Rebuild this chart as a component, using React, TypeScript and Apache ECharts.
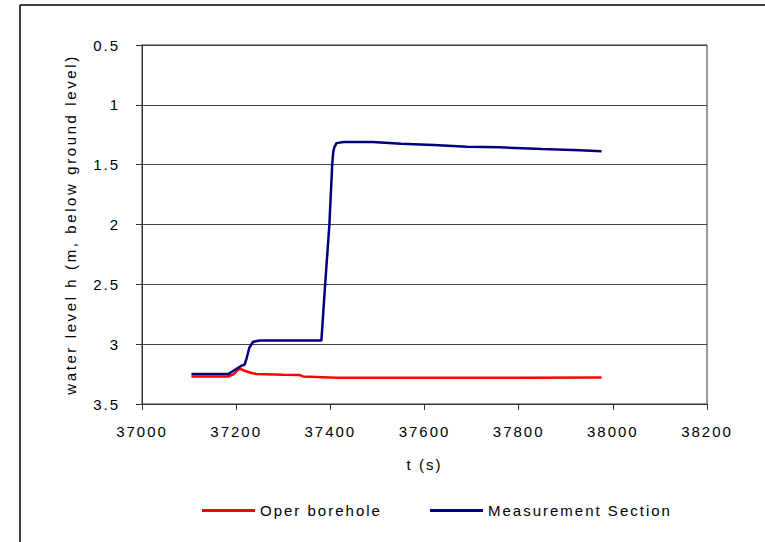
import React, { useEffect, useRef } from "react";
import * as echarts from "echarts";

// Time stamps (s) and water levels (m below ground level)
const measurementTime = [
  37105, 37183, 37195, 37205, 37212, 37218, 37222, 37228, 37236, 37250,
  37300, 37350, 37381, 37389, 37398, 37404, 37406, 37408, 37413, 37428,
  37490, 37550, 37620, 37690, 37760, 37850, 37930, 37976,
];
const measurementLevel = [
  3.25, 3.25, 3.22, 3.195, 3.18, 3.17, 3.12, 3.03, 2.98, 2.97,
  2.97, 2.97, 2.97, 2.5, 2.0, 1.5, 1.4, 1.36, 1.32, 1.31,
  1.31, 1.325, 1.335, 1.35, 1.355, 1.37, 1.38, 1.388,
];

const boreholeTime = [
  37105, 37183, 37195, 37203, 37209, 37216, 37229, 37243, 37300, 37335,
  37342, 37413, 37600, 37800, 37976,
];
const boreholeLevel = [
  3.27, 3.27, 3.25, 3.215, 3.207, 3.22, 3.237, 3.25, 3.255, 3.258,
  3.27, 3.28, 3.28, 3.28, 3.278,
];

const seriesNames = ["Oper borehole", "Measurement Section"];
const xTitle = "t (s)";
const yTitle = "water level h (m, below ground level)";

const FONT = "'Liberation Sans', Arial, sans-serif";

const zip = (xs: number[], ys: number[]) => xs.map((x, i) => [x, ys[i]]);

export default function App() {
  const ref = useRef<HTMLDivElement>(null);

  useEffect(() => {
    if (!ref.current) return;
    const chart = echarts.init(ref.current, undefined, { renderer: "svg" });

    const legendBase = {
      top: 498,
      itemWidth: 53,
      itemHeight: 3,
      icon: "rect",
      itemGap: 6,
      textStyle: { fontFamily: FONT, fontSize: 15, color: "#000", padding: [0, 0, 0, 0] },
    };

    chart.setOption({
      animation: false,
      backgroundColor: "#fff",
      grid: {
        left: 142,
        top: 45,
        width: 565,
        height: 359,
        show: true,
        borderColor: "#333",
        borderWidth: 1,
        backgroundColor: "transparent",
      },
      legend: [
        { ...legendBase, left: 197, data: [seriesNames[0]] },
        { ...legendBase, left: 425, data: [seriesNames[1]] },
      ],
      xAxis: {
        type: "value",
        min: 37000,
        max: 38200,
        interval: 200,
        name: xTitle,
        nameLocation: "middle",
        nameGap: 53,
        nameTextStyle: { fontFamily: FONT, fontSize: 15, color: "#000" },
        axisLine: { show: true, onZero: false, lineStyle: { color: "#333", width: 1 } },
        axisTick: { show: true, inside: false, length: 6, lineStyle: { color: "#333" } },
        axisLabel: {
          fontFamily: FONT,
          fontSize: 15,
          color: "#000",
          margin: 20,
          formatter: (v: number) => String(v),
        },
        splitLine: { show: false },
      },
      yAxis: {
        type: "value",
        inverse: true,
        min: 0.5,
        max: 3.5,
        interval: 0.5,
        name: yTitle,
        nameLocation: "middle",
        nameGap: 64,
        nameRotate: 90,
        nameTextStyle: { fontFamily: FONT, fontSize: 15, color: "#000" },
        axisLine: { show: true, lineStyle: { color: "#333", width: 1 } },
        axisTick: { show: true, inside: false, length: 6, lineStyle: { color: "#333" } },
        axisLabel: {
          fontFamily: FONT,
          fontSize: 15,
          color: "#000",
          margin: 22,
          formatter: (v: number) => String(v),
        },
        splitLine: { show: true, lineStyle: { color: "#444", width: 1 } },
      },
      graphic: [
        {
          type: "line",
          shape: { x1: 20, y1: 5, x2: 765, y2: 5 },
          style: { stroke: "#000", lineWidth: 1.5 },
          silent: true,
        },
        {
          type: "line",
          shape: { x1: 20, y1: 5, x2: 20, y2: 542 },
          style: { stroke: "#000", lineWidth: 1.5 },
          silent: true,
        },
      ],
      series: [
        {
          name: seriesNames[0],
          type: "line",
          data: zip(boreholeTime, boreholeLevel),
          showSymbol: false,
          symbol: "none",
          lineStyle: { color: "#ff0000", width: 2.5 },
          itemStyle: { color: "#ff0000" },
          z: 2,
        },
        {
          name: seriesNames[1],
          type: "line",
          data: zip(measurementTime, measurementLevel),
          showSymbol: false,
          symbol: "none",
          lineStyle: { color: "#000080", width: 2.5 },
          itemStyle: { color: "#000080" },
          z: 3,
        },
      ],
    });

    // Text in this chart is set with a little extra tracking
    const spaceOut = () => {
      ref.current?.querySelectorAll("text").forEach((t) => {
        const el = t as SVGTextElement;
        el.style.letterSpacing = el.textContent === yTitle ? "2.6px" : "2px";
      });
    };
    spaceOut();
    chart.on("finished", spaceOut);
    const timer = setTimeout(spaceOut, 0);

    return () => {
      clearTimeout(timer);
      chart.dispose();
    };
  }, []);

  return (
    <div
      ref={ref}
      style={{ position: "absolute", left: 0, top: 0, width: 765, height: 542 }}
    />
  );
}
